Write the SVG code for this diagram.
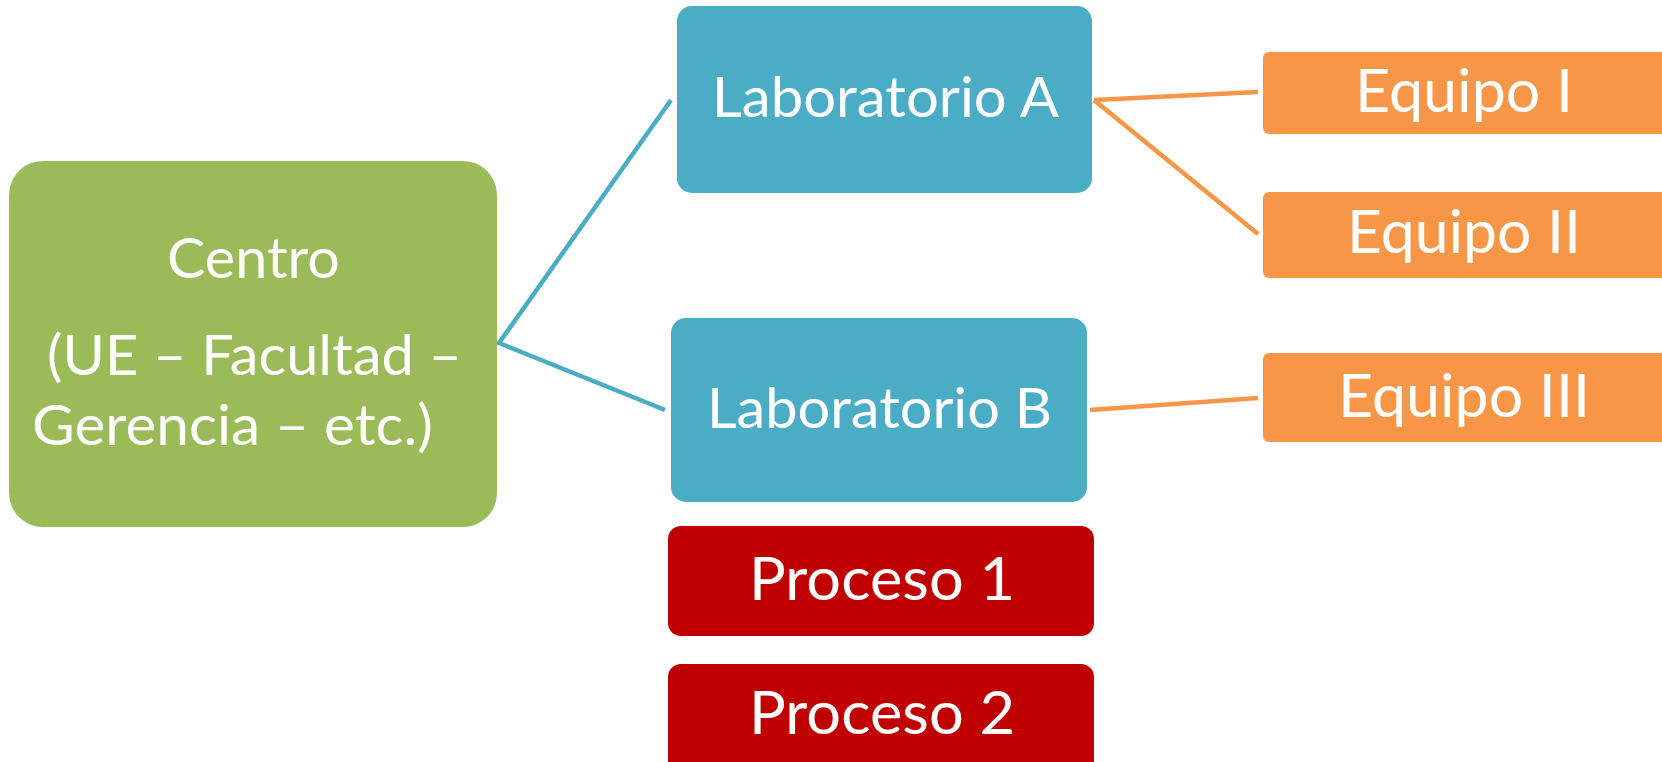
<svg xmlns="http://www.w3.org/2000/svg" width="1662" height="762" viewBox="0 0 1662 762">
<style>
text{font-family:Lato,"Open Sans","Liberation Sans",sans-serif;fill:#fff;font-size:56px}
.big{font-size:60px}
.c{fill:none;stroke-width:4.5}
.b{stroke:#4BACC6}
.o{stroke:#F79646}
</style>
<rect width="1662" height="762" fill="#fff"/>
<g id="connectors">
<polyline class="c b" points="671,100 499,343 665,410"/>
<line class="c o" x1="1094" y1="100" x2="1258" y2="92"/>
<line class="c o" x1="1094" y1="100" x2="1258" y2="234"/>
<line class="c o" x1="1090" y1="410" x2="1258" y2="398"/>
</g>
<g id="centro">
<rect x="9" y="161" width="488" height="366" rx="34" fill="#9BBB59"/>
<text x="167" y="278" textLength="173" lengthAdjust="spacingAndGlyphs">Centro</text>
<text x="47" y="375" textLength="415" lengthAdjust="spacingAndGlyphs">(UE – Facultad –</text>
<text x="32" y="445" textLength="401" lengthAdjust="spacingAndGlyphs">Gerencia – etc.)</text>
</g>
<g id="labA">
<rect x="677" y="6" width="415" height="187" rx="15" fill="#4BACC6"/>
<text x="712" y="117" textLength="347" lengthAdjust="spacingAndGlyphs">Laboratorio A</text>
</g>
<g id="labB">
<rect x="671" y="318" width="416" height="184" rx="15" fill="#4BACC6"/>
<text x="707" y="428" textLength="345" lengthAdjust="spacingAndGlyphs">Laboratorio B</text>
</g>
<g id="equipo1">
<rect x="1263" y="52" width="405" height="82" rx="6" fill="#F79646"/>
<text class="big" x="1355" y="112" textLength="218" lengthAdjust="spacingAndGlyphs">Equipo I</text>
</g>
<g id="equipo2">
<rect x="1263" y="192" width="405" height="86" rx="6" fill="#F79646"/>
<text class="big" x="1347" y="253" textLength="234" lengthAdjust="spacingAndGlyphs">Equipo II</text>
</g>
<g id="equipo3">
<rect x="1263" y="353" width="405" height="89" rx="6" fill="#F79646"/>
<text class="big" x="1338" y="417" textLength="252" lengthAdjust="spacingAndGlyphs">Equipo III</text>
</g>
<g id="proceso1">
<rect x="668" y="526" width="426" height="110" rx="13" fill="#C00000"/>
<text class="big" x="749" y="600" textLength="266" lengthAdjust="spacingAndGlyphs">Proceso 1</text>
</g>
<g id="proceso2">
<rect x="668" y="664" width="426" height="110" rx="13" fill="#C00000"/>
<text class="big" x="749" y="734" textLength="266" lengthAdjust="spacingAndGlyphs">Proceso 2</text>
</g>
</svg>
